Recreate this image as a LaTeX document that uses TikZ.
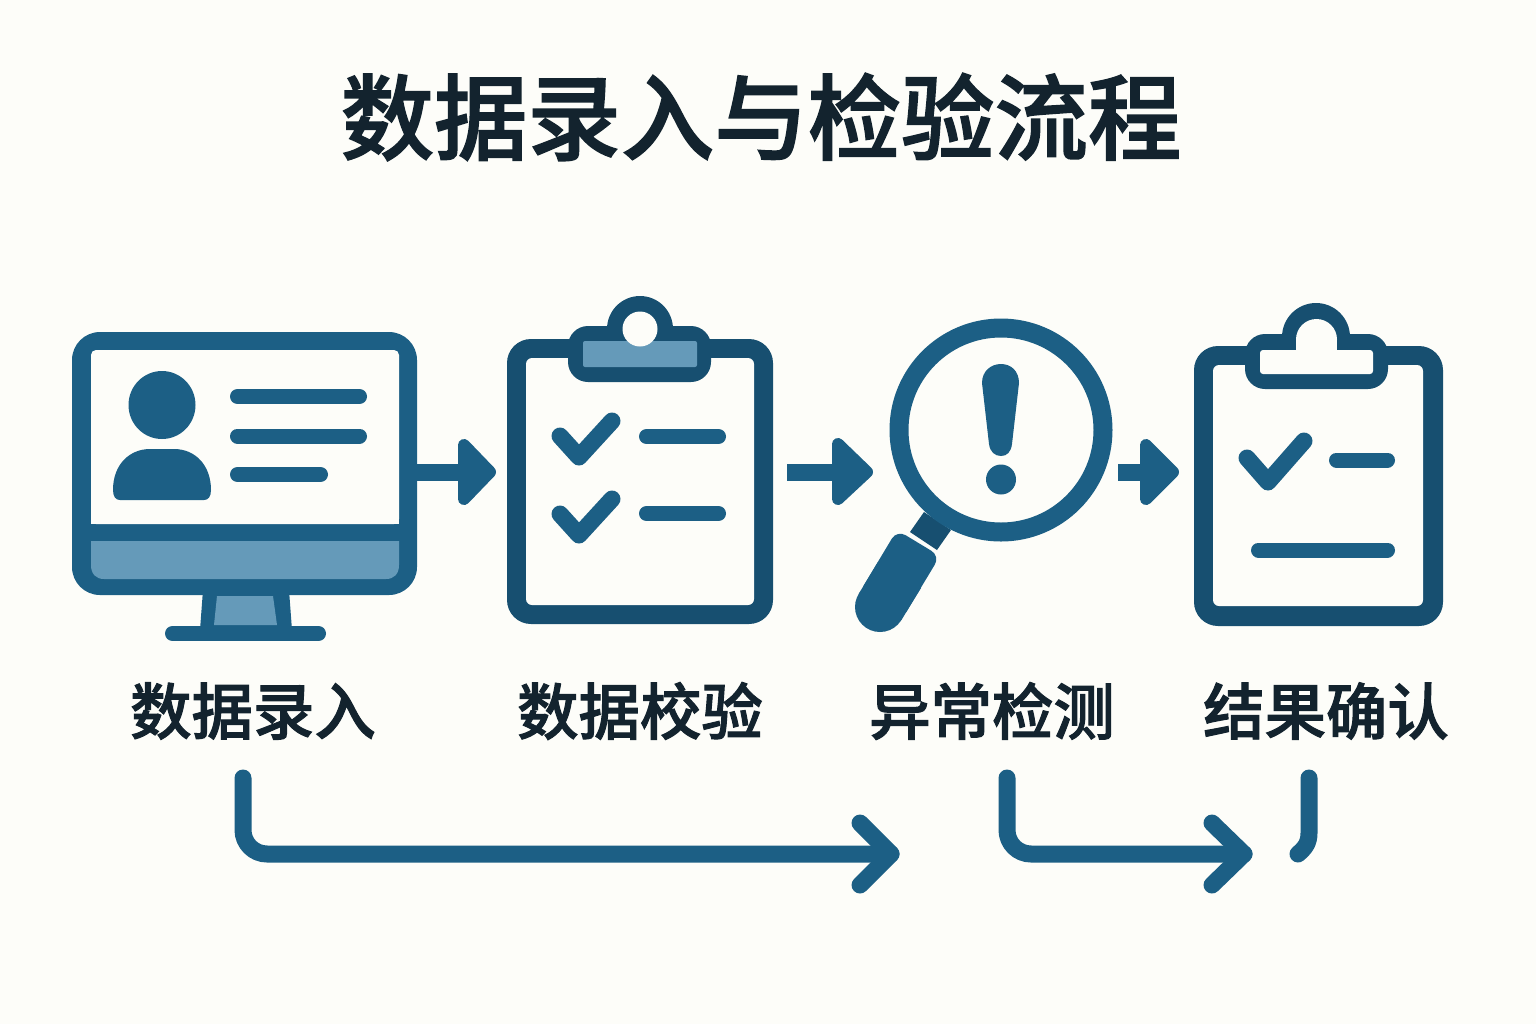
\documentclass[tikz,border=0pt]{standalone}
\usepackage{fontspec}
\newfontfamily\cjk[FakeBold=1.6]{Noto Sans CJK SC Medium}
\definecolor{bgc}{HTML}{FDFDF9}
\definecolor{iconc}{HTML}{1C5F85}
\definecolor{framec}{HTML}{174F70}
\definecolor{lightc}{HTML}{659AB9}
\definecolor{textc}{HTML}{13232E}
\tikzset{
  titlelabel/.style={font=\cjk\fontsize{46.7pt}{50pt}\selectfont,text=textc,inner sep=0pt},
  steplabel/.style={font=\cjk\fontsize{30.7pt}{34pt}\selectfont,text=textc,inner sep=0pt},
  bar/.style={line width=7.5pt,line cap=round,draw=iconc},
  tick/.style={line width=8.5pt,line cap=round,line join=round,draw=iconc},
  flowline/.style={line width=8.5pt,line cap=round,line join=round,draw=iconc},
  shaft/.style={line width=8.5pt,draw=iconc},
  tiphead/.style={fill=iconc,draw=iconc,line width=6pt,line join=round}
}
\begin{document}
\begin{tikzpicture}[x=0.5pt,y=-0.5pt]
\fill[bgc] (0,0) rectangle (1536,1024);
\useasboundingbox (0,0) rectangle (1536,1024);

\node[titlelabel] (title) at (761,117) {数据录入与检验流程};
\node[steplabel] (l1) at (253,711) {数据录入};
\node[steplabel] (l2) at (640,711) {数据校验};
\node[steplabel] (l3) at (992,711) {异常检测};
\node[steplabel] (l4) at (1326,711) {结果确认};

% monitor
\fill[iconc] (203,590) -- (289,590) -- (292,630) -- (200,630) -- cycle;
\fill[lightc] (217,596) -- (273,596) -- (277,625) -- (214,625) -- cycle;
\draw[line width=7.5pt,line cap=round,draw=iconc] (172.5,633.5) -- (318.5,633.5);
\fill[iconc,rounded corners=14pt] (72,332) rectangle (417,595);
\fill[bgc,rounded corners=2.5pt] (91,350) -- (399,350) -- (399,524) -- (91,524) -- cycle;
\fill[bgc] (91,500) rectangle (399,524);
\fill[lightc] (91,541) -- (399,541) -- (399,565) .. controls (399,574) and (394,579) .. (386,579) -- (104,579) .. controls (96,579) and (91,574) .. (91,565) -- cycle;
\fill[iconc] (162,405) ellipse (33.5 and 34);
\fill[iconc] (113,490) .. controls (113,464) and (130,449) .. (150,449) -- (174,449) .. controls (196,449) and (211,466) .. (211,490) .. controls (211,497) and (208,500) .. (204,500) -- (120,500) .. controls (116,500) and (113,497) .. (113,490) -- cycle;
\draw[bar] (237.5,396.5) -- (359.5,396.5);
\draw[bar] (237.5,436) -- (359.5,436);
\draw[bar] (237.5,474.5) -- (320.5,474.5);

% clipboard 1
\fill[framec,rounded corners=12pt] (507,339) rectangle (773,624);
\fill[bgc,rounded corners=3pt] (526,358) rectangle (754,605);
\fill[framec] (640,329) circle (33);
\fill[framec,rounded corners=10pt] (568,326) rectangle (711,382);
\fill[lightc,rounded corners=1pt] (583,341) rectangle (697,367);
\fill[bgc] (640,329) circle (17.5);
\draw[tick] (560,436) -- (579,457) -- (612,421);
\draw[tick] (560,514) -- (579,535) -- (612,499);
\draw[bar] (646.5,436.5) -- (718.5,436.5);
\draw[bar] (646.5,513.5) -- (718.5,513.5);

% magnifier
\fill[framec] (924,512) -- (951,530) -- (937,550) -- (910,532) -- cycle;
\fill[iconc,rounded corners=5pt] (858.6,594) -- (897,530) -- (940,556) -- (901.4,620) -- cycle;
\fill[iconc] (858.6,594) -- (878,562) -- (921,588) -- (901.4,620) -- cycle;
\fill[iconc] (880,607) circle (25);
\draw[iconc,line width=9.5pt,fill=bgc] (1001,430) circle (102);
\fill[iconc] (982,383) .. controls (982,371) and (991,364) .. (1001,364) .. controls (1011,364) and (1019,371) .. (1019,383) -- (1012,444) .. controls (1011,452) and (1007,456) .. (1001,456) .. controls (995,456) and (990,452) .. (989,444) -- cycle;
\fill[iconc] (1001,479.5) ellipse (15 and 15);

% clipboard 2
\fill[framec,rounded corners=12pt] (1194,346) rectangle (1443,626);
\fill[bgc,rounded corners=3pt] (1213,365) rectangle (1423,606);
\fill[framec] (1316,337) circle (34);
\fill[framec,rounded corners=10pt] (1245,334) rectangle (1388,389);
\fill[bgc,rounded corners=1.5pt] (1260,350) rectangle (1373,374);
\fill[bgc] (1316.5,339.5) circle (20.5);
\fill[bgc] (1296,339.5) rectangle (1337,352);
\draw[tick] (1247,458) -- (1268,482) -- (1304,441);
\draw[bar] (1336.5,460) -- (1387.5,460);
\draw[bar] (1258.5,550) -- (1387.5,550);

% step arrows
\coordinate (a1s) at (416,472.5); \coordinate (a1e) at (462,472.5);
\coordinate (a2s) at (787,472.5); \coordinate (a2e) at (838,472.5);
\coordinate (a3s) at (1118,472.5); \coordinate (a3e) at (1144,472.5);
\draw[shaft] (a1s) -- (a1e);
\draw[shaft] (a2s) -- (a2e);
\draw[shaft] (a3s) -- (a3e);
\draw[tiphead] (464,445) -- (490,472) -- (464,499) -- cycle;
\draw[tiphead] (838,444) -- (867,472) -- (838,499) -- cycle;
\draw[tiphead] (1146,445) -- (1173,472) -- (1146,499) -- cycle;

% flow connectors
\coordinate (f1s) at (243,778); \coordinate (f1e) at (891,854);
\coordinate (f2s) at (1007,778); \coordinate (f2e) at (1244,854);
\coordinate (f3s) at (1309,778); \coordinate (f3e) at (1298,854);
\draw[flowline,rounded corners=12pt] (f1s) -- (243,854) -- (f1e);
\draw[flowline] (860,823) -- (f1e) -- (860,885);
\draw[flowline,rounded corners=12pt] (f2s) -- (1007,854) -- (f2e);
\draw[flowline] (1212,823) -- (f2e) -- (1212,885);
\draw[flowline] (f3s) -- (1309,833) .. controls (1309,843) and (1305,848) .. (f3e);
\end{tikzpicture}
\end{document}
